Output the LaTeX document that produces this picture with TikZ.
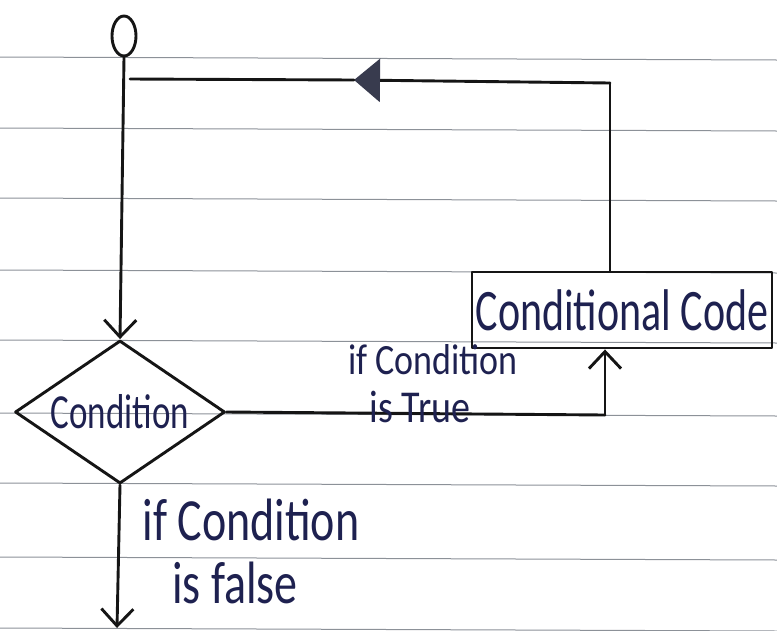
\documentclass[tikz,border=0pt]{standalone}
\usepackage{fontspec}
\setmainfont{Carlito}
\usetikzlibrary{shapes.geometric,arrows.meta}
\definecolor{ink}{HTML}{1E2150}
\definecolor{pen}{HTML}{151515}
\definecolor{papr}{HTML}{8C9198}
\definecolor{tri}{HTML}{383B4E}
\newcommand{\hw}[3]{\scalebox{1}[#2]{\fontsize{#1}{#1}\selectfont #3}}
\begin{document}
\begin{tikzpicture}[x=1pt,y=-1pt,
  flowline/.style={draw=pen, line width=2.9pt, line cap=round, line join=round},
  vtip/.style={-{Straight Barb[length=17pt,width=32pt]}},
  paperline/.style={draw=papr, line width=1pt},
  lbl/.style={text=ink, inner sep=0pt}]
\useasboundingbox (0,0) rectangle (777,630);
% ruled paper
\foreach \yy in {57,128,198,270,340,413,483,557,628}
  \draw[paperline] (0,\yy) -- (777,\yy+3);
% nodes
\node[flowline, ellipse, minimum width=24pt, minimum height=40pt, inner sep=0pt] (start) at (124,36) {};
\node[flowline, diamond, aspect=1.47, minimum width=210pt, minimum height=143pt, inner sep=0pt, text=ink] (cond) at (120,412) {\hw{35}{1.4}{Condition}};
\node[flowline, rectangle, minimum width=300pt, minimum height=76pt, inner sep=0pt, text=ink] (code) at (622,310) {\hw{42}{1.4}{Conditional Code}};
% coordinates
\coordinate (rc) at (610,83);
\coordinate (lc) at (130,79);
\coordinate (am) at (354,80);
\coordinate (tj) at (605,415);
\coordinate (out) at (117,628);
% connectors
\draw[flowline, vtip] (start.south) -- (cond.north);
\draw[flowline] (code.north -| rc) -- (rc);
\draw[flowline, -{Triangle[length=26pt,width=43pt,color=tri]}] (rc) -- (am);
\draw[flowline] (am) -- (lc);
\draw[flowline] (cond.east) -- (tj);
\draw[flowline, vtip] (tj) -- (tj |- code.south);
\draw[flowline, vtip] (cond.south) -- (out);
% labels
\node[lbl] (truea) at (433,360) {\hw{36}{1.2}{if Condition}};
\node[lbl] (trueb) at (420,407) {\hw{38}{1.2}{is True}};
\node[lbl] (falsea) at (251,520) {\hw{46}{1.3}{if Condition}};
\node[lbl] (falseb) at (235,583) {\hw{46}{1.3}{is false}};
\end{tikzpicture}
\end{document}
